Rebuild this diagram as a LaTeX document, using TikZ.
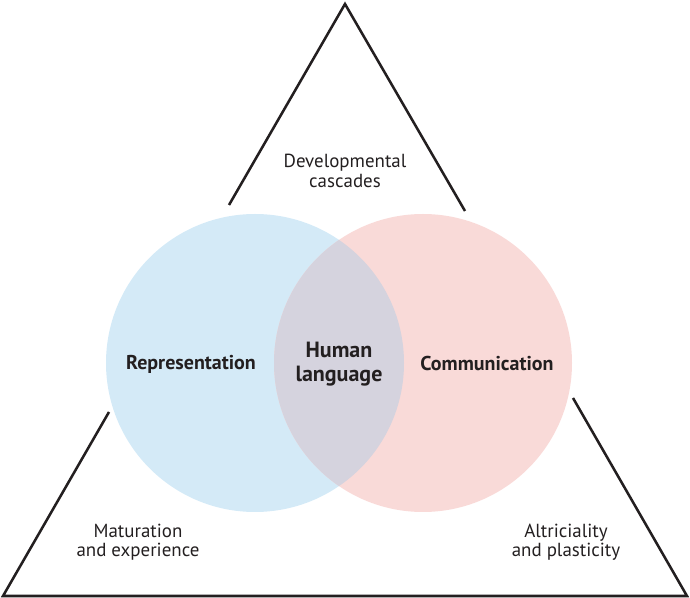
\documentclass[tikz,border=0pt]{standalone}
\usepackage{fontspec}
\setmainfont{PT Sans}
\usetikzlibrary{calc}

\definecolor{repblue}{RGB}{212,234,247}
\definecolor{compink}{RGB}{249,218,216}
\definecolor{overlap}{RGB}{213,211,222}
\definecolor{inkblack}{RGB}{35,31,32}

\tikzset{
    edge/.style={draw=inkblack, line width=1.9pt},
    lbl/.style={align=center, text=inkblack, font=\fontsize{14.2}{14.5}\selectfont, inner sep=0pt},
    blbl/.style={lbl, font=\fontsize{15}{17}\selectfont\bfseries},
    hlbl/.style={lbl, font=\fontsize{16.5}{17.5}\selectfont\bfseries}
}

\begin{document}
\begin{tikzpicture}[x=0.75pt, y=-0.75pt]
    % Define circle dimensions
    \def\rad{149} % radius of both circles
    \def\cy{363} % vertical centre of both circles

    \useasboundingbox (0,0) rectangle (690,598);

    % --- Circles ---
    \coordinate (repc) at (255,\cy);
    \coordinate (comc) at (423,\cy);
    \fill[repblue] (repc) circle (\rad);
    \fill[compink] (comc) circle (\rad);
    \begin{scope}
        \clip (repc) circle (\rad);
        \fill[overlap] (comc) circle (\rad); % lens of the two circles
    \end{scope}

    % --- Triangle ---
    \coordinate (apex) at (345,4);
    \coordinate (bl) at (3,596);
    \coordinate (br) at (687,596);
    \coordinate (lup) at (229,205); % left side, end above the circle
    \coordinate (llo) at (109,412); % left side, end below the circle
    \coordinate (rup) at (465,211); % right side, end above the circle
    \coordinate (rlo) at (573,398); % right side, end below the circle

    \draw[edge] (lup) -- (apex) -- (rup);
    \draw[edge] (llo) -- (bl) -- (br) -- (rlo);

    % --- Labels ---
    \node[lbl] (cascade) at (345,171) {Developmental\\cascades};
    \node[lbl] (matur) at (138,542) {Maturation\\and experience};
    \node[lbl] (altric) at (566,542) {Altriciality\\and plasticity};

    \node[blbl] (repr) at (191,364) {Representation};
    \node[hlbl] (human) at (339,364) {Human\\language};
    \node[blbl] (comm) at (487,364) {Communication};
\end{tikzpicture}
\end{document}
